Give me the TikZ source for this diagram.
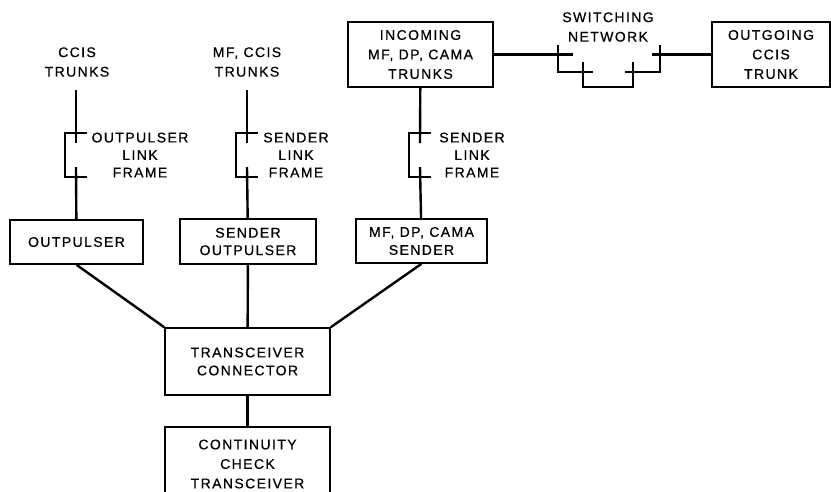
\documentclass[tikz,border=0pt]{standalone}
\usepackage{fontspec}
\setmainfont{Liberation Sans}
\newfontfamily\diafont[LetterSpace=10,FakeBold=0.6]{Liberation Sans}
\usepackage{tikz}

\begin{document}
\begin{tikzpicture}[x=1pt, y=-1pt,
  box/.style={draw, line width=1.6pt, align=center, inner sep=0pt,
              font=\diafont\fontsize{14}{19.5}\selectfont},
  lbl/.style={align=center, inner sep=0pt, font=\diafont\fontsize{14}{19.5}\selectfont},
  tag/.style={align=center, inner sep=0pt, font=\diafont\fontsize{14}{17.5}\selectfont},
  wire/.style={line width=2.4pt},
  brk/.style={line width=1.6pt}]
\useasboundingbox (0,0) rectangle (831,491);
% boxes
\node[box, minimum width=145pt, minimum height=65pt] (inc) at (420.5,54.5) {INCOMING\\MF, DP, CAMA\\TRUNKS};
\node[box, minimum width=118pt, minimum height=65pt] (ogt) at (771,54.5) {OUTGOING\\CCIS\\TRUNK};
\node[box, minimum width=133pt, minimum height=44pt] (op) at (76.5,242) {OUTPULSER};
\node[box, minimum width=136pt, minimum height=45pt, font=\diafont\fontsize{14}{17.5}\selectfont] (sop) at (248,241.5) {SENDER\\OUTPULSER};
\node[box, minimum width=131pt, minimum height=44pt, font=\diafont\fontsize{14}{18}\selectfont] (mfs) at (421.5,241) {MF, DP, CAMA\\SENDER};
\node[box, minimum width=165pt, minimum height=67pt, font=\diafont\fontsize{14}{18}\selectfont] (tc) at (247.5,361.5) {TRANSCEIVER\\CONNECTOR};
\node[box, minimum width=165pt, minimum height=74pt] (cct) at (247.5,464) {CONTINUITY\\CHECK\\TRANSCEIVER};
% labels
\node[lbl] (ccis) at (77,62) {CCIS\\TRUNKS};
\node[lbl] (mfccis) at (247,62) {MF, CCIS\\TRUNKS};
\node[lbl] (swn) at (608,27) {SWITCHING\\NETWORK};
\node[tag] (oplf) at (140,155) {OUTPULSER\\LINK\\FRAME};
\node[tag] (slf1) at (296,155) {SENDER\\LINK\\FRAME};
\node[tag] (slf2) at (472,155) {SENDER\\LINK\\FRAME};
% link frames
\coordinate (top1) at (76,90);
\coordinate (lfa1) at (76,143);
\coordinate (lfb1) at (76,167);
\coordinate (top2) at (247,90);
\coordinate (lfa2) at (247,143);
\coordinate (lfb2) at (247,167);
\coordinate (lfa3) at (420,143);
\coordinate (lfb3) at (420,167);
\draw[wire] (top1) -- (lfa1);
\draw[wire] (lfb1) -- (op);
\draw[wire] (top2) -- (lfa2);
\draw[wire] (lfb2) -- (sop);
\draw[wire] (inc) -- (lfa3);
\draw[wire] (lfb3) -- (mfs);
\foreach \c in {1,2,3}
  \draw[brk] (lfa\c) ++(11,-10) -| ++(-22,44) -- ++(22,0);
% switching network
\coordinate (swa) at (573,54.5);
\coordinate (swb) at (652,54.5);
\draw[wire] (inc) -- (swa);
\draw[wire] (swb) -- (ogt);
\draw[brk] (558,45) |- (593,72);
\draw[brk] (583,62) |- (633,87) -- (633,62);
\draw[brk] (625,72) -| (660,45);
% transceiver connector
\draw[wire] (op.south) -- (tc.north west);
\draw[wire] (sop) -- (tc);
\draw[wire] (mfs.south) -- (tc.north east);
\draw[wire] (tc) -- (cct);
\end{tikzpicture}
\end{document}
